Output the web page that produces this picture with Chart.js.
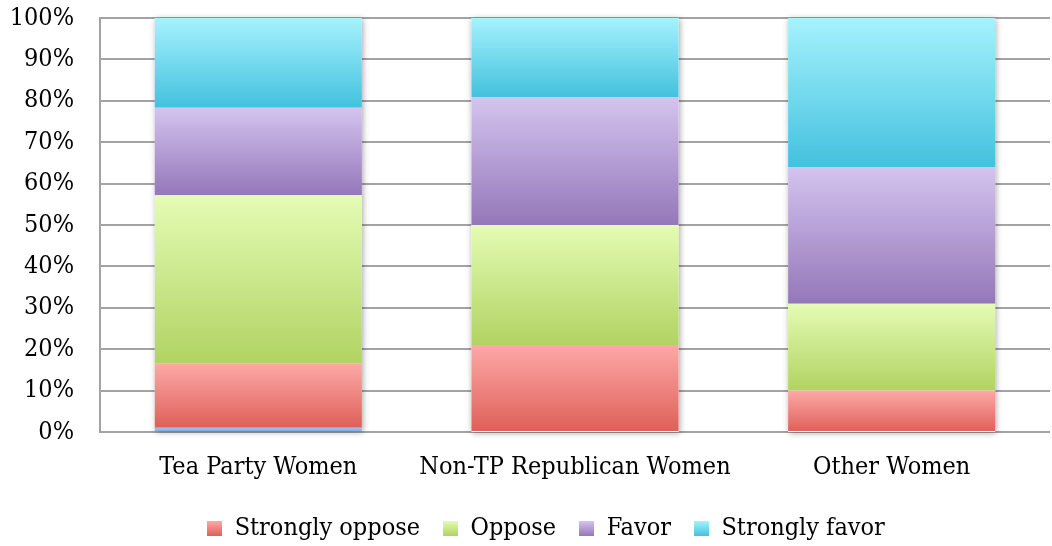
<!DOCTYPE html>
<html>
<head>
<meta charset="utf-8">
<script src="https://cdn.jsdelivr.net/npm/chart.js@4/dist/chart.umd.min.js"></script>
<style>
  html, body { margin: 0; padding: 0; background: #fff; }
  #wrap { width: 1052px; height: 546px; position: relative; }
</style>
</head>
<body>
<div id="wrap"><canvas id="supportChart"></canvas></div>
<script>
const groups = ["Tea Party Women", "Non-TP Republican Women", "Other Women"];
const noAnswer = [1, 0, 0];
const stronglyOppose = [15.5, 21, 10];
const oppose = [40.7, 29, 21];
const favor = [21.1, 30.9, 33];
const stronglyFavor = [21.7, 19.1, 36];
const yTicks = [0, 10, 20, 30, 40, 50, 60, 70, 80, 90, 100];

const FONT = "'DejaVu Serif Condensed', 'DejaVu Serif', serif";
const FONT_SIZE = 25;

// stacking order, bottom to top
const stack = [noAnswer, stronglyOppose, oppose, favor, stronglyFavor];
const palette = [
  ["#9fc2ec", "#7ea6da", "#8db4e3"],
  ["#fda9a7", "#de5f58", "#ee8580"],
  ["#e4fcb4", "#b1d362", "#cce68c"],
  ["#d4c4ef", "#9477b9", "#b49ed6"],
  ["#a6f2fd", "#43c1de", "#74d9ee"],
];

// each segment gets its own light-to-dark vertical gradient
function segmentFill(dsIndex) {
  const [light, dark, mid] = palette[dsIndex];
  return (ctx) => {
    const chart = ctx.chart;
    if (!chart.chartArea || ctx.type !== "data") return mid;
    const i = ctx.dataIndex;
    let base = 0;
    for (let k = 0; k < dsIndex; k++) base += stack[k][i];
    const top = base + stack[dsIndex][i];
    const y = chart.scales.y;
    const y0 = y.getPixelForValue(top);
    const y1 = y.getPixelForValue(base);
    if (!isFinite(y0) || !isFinite(y1) || y0 === y1) return mid;
    const g = chart.ctx.createLinearGradient(0, y0, 0, y1);
    g.addColorStop(0, light);
    g.addColorStop(1, dark);
    return g;
  };
}

// small gradient swatch for the legend
function swatch(dsIndex) {
  const [light, dark] = palette[dsIndex];
  const c = document.createElement("canvas");
  c.width = 15;
  c.height = 15;
  const g2 = c.getContext("2d");
  const g = g2.createLinearGradient(0, 0, 0, 15);
  g.addColorStop(0, light);
  g.addColorStop(1, dark);
  g2.fillStyle = g;
  g2.fillRect(0, 0, 15, 15);
  return c;
}

// soft shadow behind each whole bar
const barShadow = {
  id: "barShadow",
  beforeDatasetsDraw(chart) {
    const metas = chart.getSortedVisibleDatasetMetas();
    if (!metas.length) return;
    const ctx = chart.ctx;
    const bottomMeta = metas.find((m) => m.index === 0) || metas[0];
    const topMeta = metas.find((m) => m.index === stack.length - 1) || metas[metas.length - 1];
    ctx.save();
    ctx.shadowColor = "rgba(0,0,0,0.35)";
    ctx.shadowBlur = 6;
    ctx.shadowOffsetX = 1;
    ctx.shadowOffsetY = 1;
    ctx.fillStyle = "#ffffff";
    topMeta.data.forEach((bar, i) => {
      const b = bottomMeta.data[i];
      const w = bar.width;
      ctx.fillRect(bar.x - w / 2, bar.y, w, b.base - bar.y);
    });
    ctx.restore();
  },
};

// nudge the legend row to the right
const legendShift = {
  id: "legendShift",
  afterLayout(chart) {
    const lg = chart.legend;
    if (!lg) return;
    lg.left += 21;
    lg.right += 21;
  },
};

const seriesNames = ["No answer", "Strongly oppose", "Oppose", "Favor", "Strongly favor"];

new Chart(document.getElementById("supportChart"), {
  type: "bar",
  data: {
    labels: groups,
    datasets: stack.map((values, i) => ({
      label: seriesNames[i],
      data: values,
      backgroundColor: segmentFill(i),
    })),
  },
  options: {
    responsive: true,
    maintainAspectRatio: false,
    animation: false,
    layout: { padding: { top: 18, right: 2, left: 0, bottom: -5 } },
    datasets: { bar: { categoryPercentage: 1, barPercentage: 0.654, borderWidth: 0 } },
    scales: {
      x: {
        stacked: true,
        grid: { display: false, drawTicks: false },
        border: { display: false },
        ticks: {
          color: "#000",
          font: { family: FONT, size: FONT_SIZE },
          padding: 20,
          maxRotation: 0,
          minRotation: 0,
          autoSkip: false,
        },
        afterFit: (axis) => {
          axis.paddingLeft = 0;
          axis.paddingRight = 0;
          axis.height = 61;
        },
      },
      y: {
        stacked: true,
        min: 0,
        max: 100,
        afterBuildTicks: (axis) => { axis.ticks = yTicks.map((v) => ({ value: v })); },
        grid: { color: "#a3a3a3", lineWidth: 2, drawTicks: false },
        border: { color: "#a3a3a3", width: 2 },
        ticks: { color: "#000", font: { family: FONT, size: FONT_SIZE }, padding: 26, callback: (v) => v + "%" },
        afterFit: (axis) => {
          axis.paddingTop = 0;
          axis.paddingBottom = 0;
          axis.width = 100;
        },
      },
    },
    plugins: {
      legend: {
        position: "bottom",
        labels: {
          color: "#000",
          font: { family: FONT, size: FONT_SIZE },
          boxWidth: 15,
          boxHeight: 15,
          padding: 23,
          usePointStyle: true,
          generateLabels: (chart) =>
            Chart.defaults.plugins.legend.labels.generateLabels(chart)
              .filter((item) => item.datasetIndex !== 0)
              .map((item) => ({ ...item, pointStyle: swatch(item.datasetIndex) })),
        },
      },
      tooltip: { enabled: false },
    },
  },
  plugins: [barShadow, legendShift],
});
</script>
</body>
</html>
